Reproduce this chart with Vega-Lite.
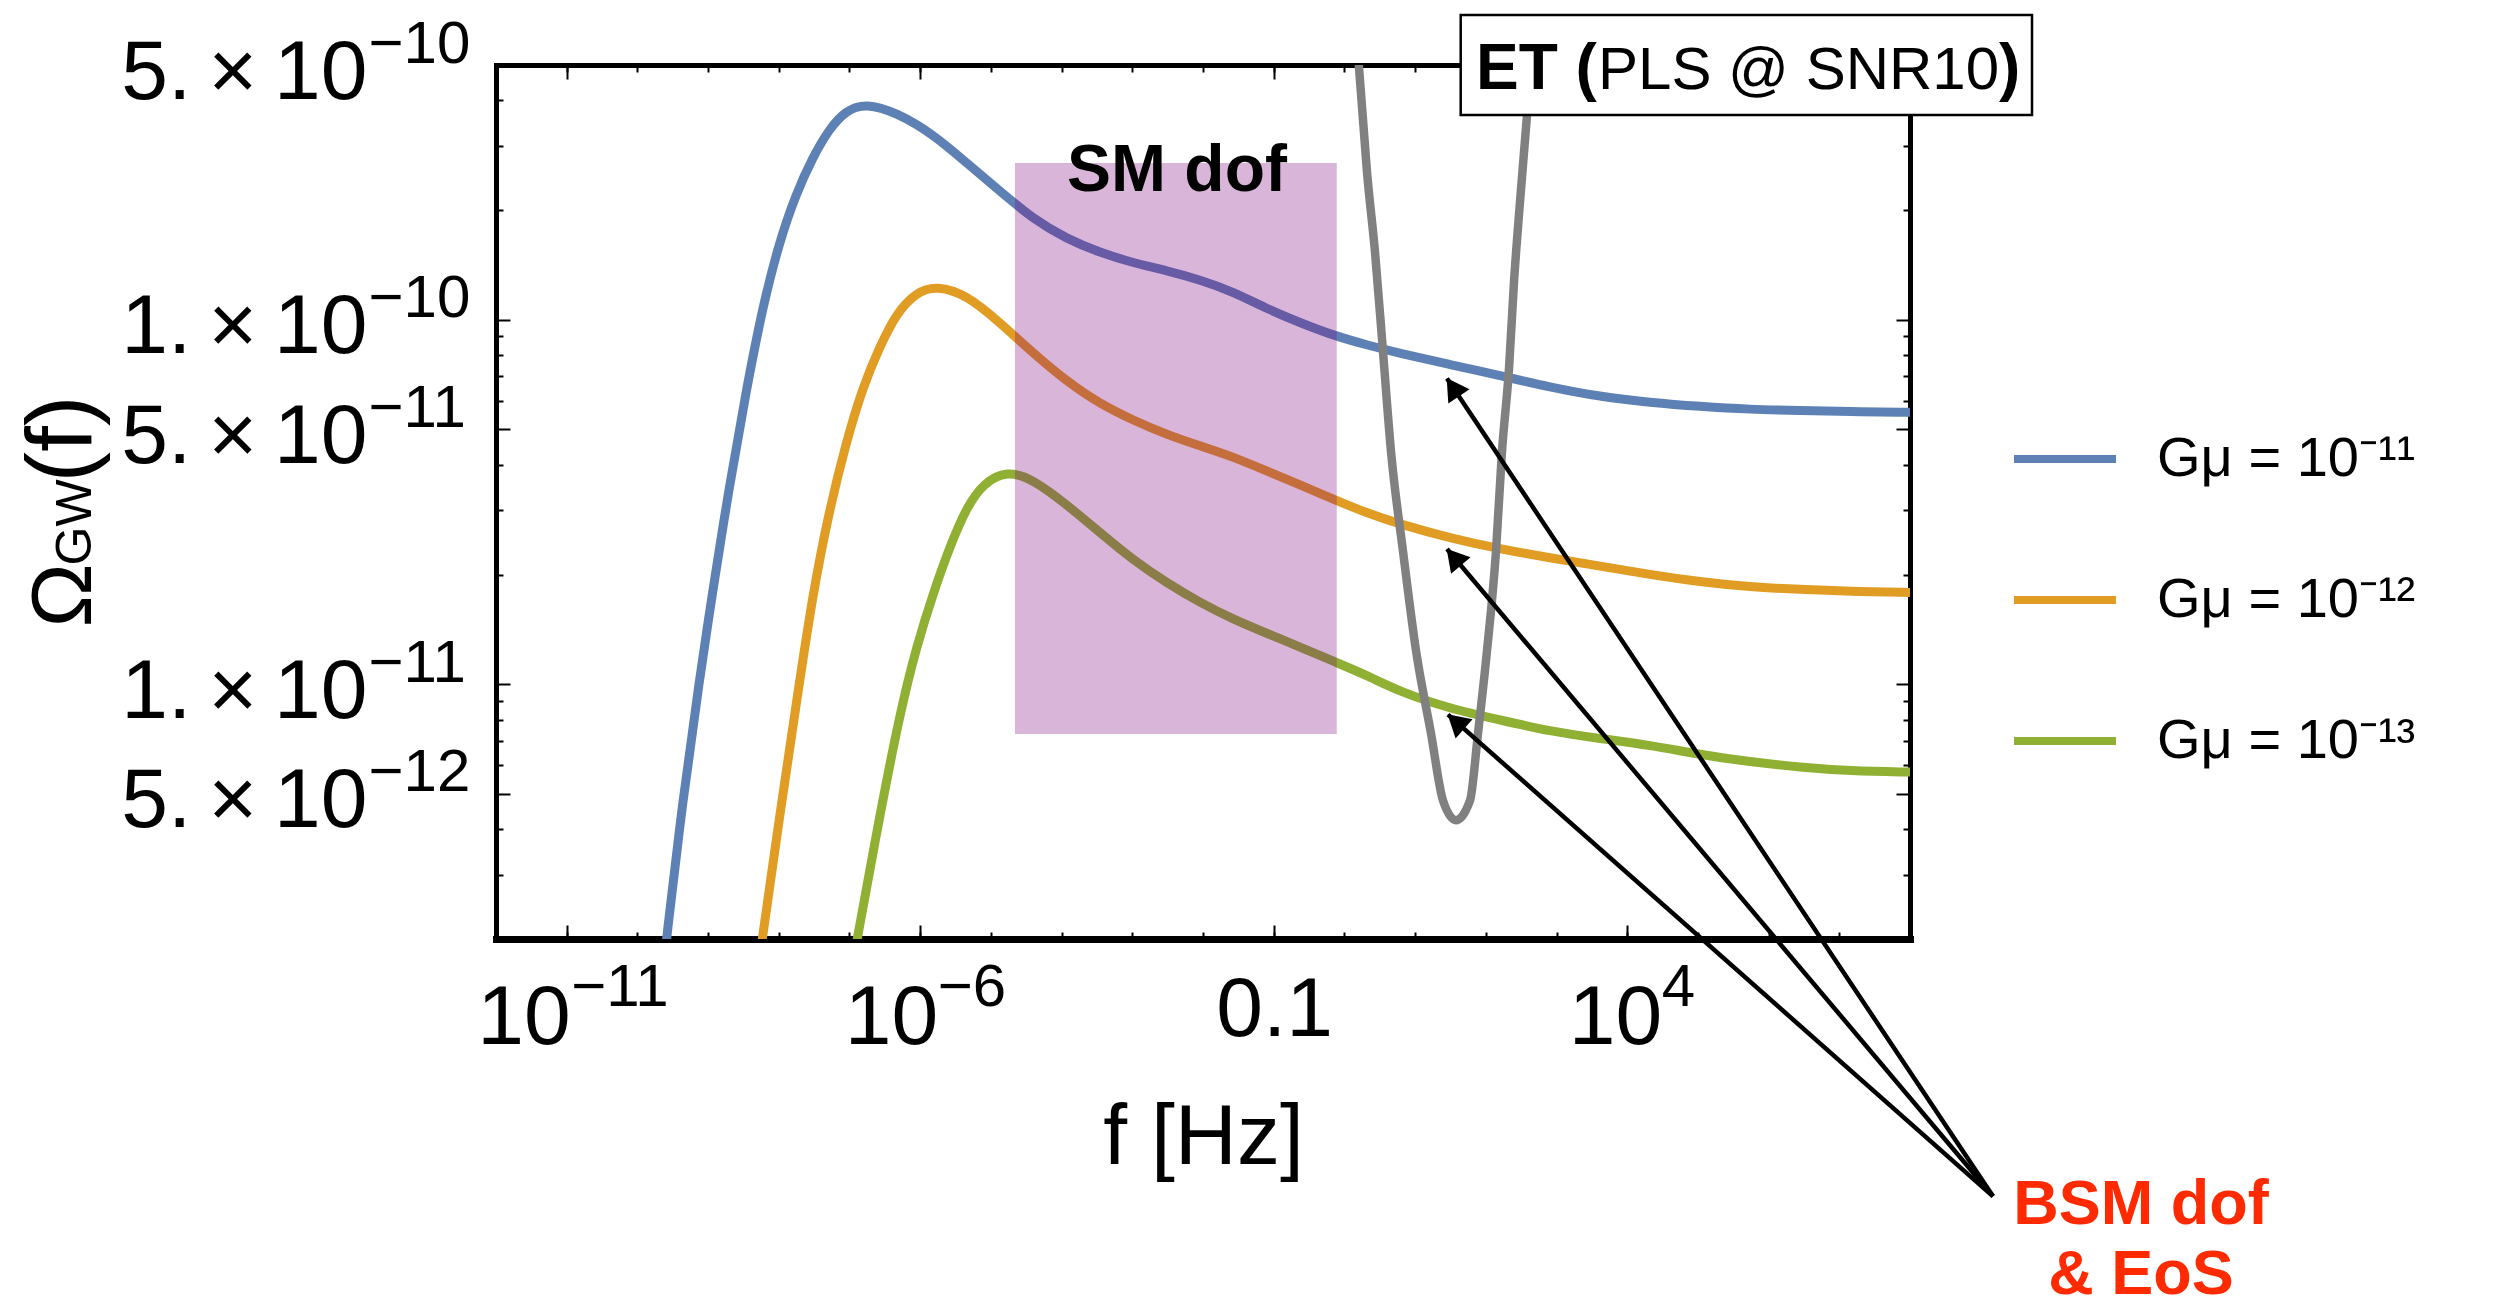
{
  "$schema": "https://vega.github.io/schema/vega-lite/v6.json",
  "width": 1414,
  "height": 874,
  "autosize": {"type": "none"},
  "padding": {"left": 496, "top": 65, "right": 595, "bottom": 371},
  "background": "white",
  "config": {
    "view": {"stroke": null},
    "axis": {"grid": false, "labelFont": "Liberation Sans", "titleFont": "Liberation Sans", "labelColor": "#000", "tickColor": "#000", "domainColor": "#000", "titleColor": "#000", "tickWidth": 2, "labelLimit": 2000, "titleLimit": 3000, "labelFlush": false, "labelOverlap": false, "zindex": 1, "domainCap": "square"},
    "text": {"font": "Liberation Sans"}
  },
  "datasets": {
    "curves": [
      {"series":"Gμ = 10⁻¹¹","f":2.089e-10,"omega":1.361e-12},
      {"series":"Gμ = 10⁻¹¹","f":2.594e-10,"omega":2.032e-12},
      {"series":"Gμ = 10⁻¹¹","f":4.375e-10,"omega":4.797e-12},
      {"series":"Gμ = 10⁻¹¹","f":7.516e-10,"omega":1.023e-11},
      {"series":"Gμ = 10⁻¹¹","f":1.161e-9,"omega":1.803e-11},
      {"series":"Gμ = 10⁻¹¹","f":1.995e-9,"omega":3.491e-11},
      {"series":"Gμ = 10⁻¹¹","f":3.436e-9,"omega":6.353e-11},
      {"series":"Gμ = 10⁻¹¹","f":5.916e-9,"omega":1.086e-10},
      {"series":"Gμ = 10⁻¹¹","f":1.016e-8,"omega":1.633e-10},
      {"series":"Gμ = 10⁻¹¹","f":1.750e-8,"omega":2.213e-10},
      {"series":"Gμ = 10⁻¹¹","f":3.020e-8,"omega":2.793e-10},
      {"series":"Gμ = 10⁻¹¹","f":5.176e-8,"omega":3.340e-10},
      {"series":"Gμ = 10⁻¹¹","f":8.913e-8,"omega":3.755e-10},
      {"series":"Gμ = 10⁻¹¹","f":1.710e-7,"omega":3.925e-10},
      {"series":"Gμ = 10⁻¹¹","f":4.550e-7,"omega":3.708e-10},
      {"series":"Gμ = 10⁻¹¹","f":1.531e-6,"omega":3.230e-10},
      {"series":"Gμ = 10⁻¹¹","f":4.550e-6,"omega":2.692e-10},
      {"series":"Gμ = 10⁻¹¹","f":1.346e-5,"omega":2.254e-10},
      {"series":"Gμ = 10⁻¹¹","f":3.981e-5,"omega":1.888e-10},
      {"series":"Gμ = 10⁻¹¹","f":1.180e-4,"omega":1.667e-10},
      {"series":"Gμ = 10⁻¹¹","f":3.491e-4,"omega":1.528e-10},
      {"series":"Gμ = 10⁻¹¹","f":1.033e-3,"omega":1.432e-10},
      {"series":"Gμ = 10⁻¹¹","f":3.069e-3,"omega":1.365e-10},
      {"series":"Gμ = 10⁻¹¹","f":9.078e-3,"omega":1.288e-10},
      {"series":"Gμ = 10⁻¹¹","f":2.685e-2,"omega":1.194e-10},
      {"series":"Gμ = 10⁻¹¹","f":7.962e-2,"omega":1.072e-10},
      {"series":"Gμ = 10⁻¹¹","f":0.2355,"omega":9.817e-11},
      {"series":"Gμ = 10⁻¹¹","f":0.6966,"omega":9.057e-11},
      {"series":"Gμ = 10⁻¹¹","f":2.065,"omega":8.531e-11},
      {"series":"Gμ = 10⁻¹¹","f":6.109,"omega":8.091e-11},
      {"series":"Gμ = 10⁻¹¹","f":31.19,"omega":7.534e-11},
      {"series":"Gμ = 10⁻¹¹","f":158.9,"omega":7.031e-11},
      {"series":"Gμ = 10⁻¹¹","f":809.1,"omega":6.531e-11},
      {"series":"Gμ = 10⁻¹¹","f":4121,"omega":6.152e-11},
      {"series":"Gμ = 10⁻¹¹","f":20990,"omega":5.929e-11},
      {"series":"Gμ = 10⁻¹¹","f":1.072e5,"omega":5.781e-11},
      {"series":"Gμ = 10⁻¹¹","f":5.458e5,"omega":5.675e-11},
      {"series":"Gμ = 10⁻¹¹","f":2.780e6,"omega":5.636e-11},
      {"series":"Gμ = 10⁻¹¹","f":1.416e7,"omega":5.598e-11},
      {"series":"Gμ = 10⁻¹¹","f":1e8,"omega":5.572e-11},
      {"series":"Gμ = 10⁻¹²","f":4.426e-9,"omega":1.361e-12},
      {"series":"Gμ = 10⁻¹²","f":5.916e-9,"omega":2.032e-12},
      {"series":"Gμ = 10⁻¹²","f":1.016e-8,"omega":4.295e-12},
      {"series":"Gμ = 10⁻¹²","f":1.750e-8,"omega":8.730e-12},
      {"series":"Gμ = 10⁻¹²","f":3.020e-8,"omega":1.770e-11},
      {"series":"Gμ = 10⁻¹²","f":5.176e-8,"omega":2.999e-11},
      {"series":"Gμ = 10⁻¹²","f":8.913e-8,"omega":4.592e-11},
      {"series":"Gμ = 10⁻¹²","f":1.538e-7,"omega":6.531e-11},
      {"series":"Gμ = 10⁻¹²","f":2.636e-7,"omega":8.375e-11},
      {"series":"Gμ = 10⁻¹²","f":4.550e-7,"omega":1.040e-10},
      {"series":"Gμ = 10⁻¹²","f":8.913e-7,"omega":1.193e-10},
      {"series":"Gμ = 10⁻¹²","f":1.710e-6,"omega":1.239e-10},
      {"series":"Gμ = 10⁻¹²","f":4.550e-6,"omega":1.171e-10},
      {"series":"Gμ = 10⁻¹²","f":1.346e-5,"omega":9.817e-11},
      {"series":"Gμ = 10⁻¹²","f":3.981e-5,"omega":8.091e-11},
      {"series":"Gμ = 10⁻¹²","f":1.180e-4,"omega":6.776e-11},
      {"series":"Gμ = 10⁻¹²","f":3.491e-4,"omega":5.875e-11},
      {"series":"Gμ = 10⁻¹²","f":1.033e-3,"omega":5.297e-11},
      {"series":"Gμ = 10⁻¹²","f":3.069e-3,"omega":4.842e-11},
      {"series":"Gμ = 10⁻¹²","f":9.078e-3,"omega":4.508e-11},
      {"series":"Gμ = 10⁻¹²","f":2.685e-2,"omega":4.207e-11},
      {"series":"Gμ = 10⁻¹²","f":7.962e-2,"omega":3.846e-11},
      {"series":"Gμ = 10⁻¹²","f":0.2355,"omega":3.524e-11},
      {"series":"Gμ = 10⁻¹²","f":0.6966,"omega":3.221e-11},
      {"series":"Gμ = 10⁻¹²","f":2.065,"omega":2.951e-11},
      {"series":"Gμ = 10⁻¹²","f":6.109,"omega":2.748e-11},
      {"series":"Gμ = 10⁻¹²","f":31.19,"omega":2.518e-11},
      {"series":"Gμ = 10⁻¹²","f":158.9,"omega":2.350e-11},
      {"series":"Gμ = 10⁻¹²","f":809.1,"omega":2.223e-11},
      {"series":"Gμ = 10⁻¹²","f":4121,"omega":2.109e-11},
      {"series":"Gμ = 10⁻¹²","f":20990,"omega":2.000e-11},
      {"series":"Gμ = 10⁻¹²","f":1.072e5,"omega":1.910e-11},
      {"series":"Gμ = 10⁻¹²","f":5.458e5,"omega":1.849e-11},
      {"series":"Gμ = 10⁻¹²","f":2.780e6,"omega":1.820e-11},
      {"series":"Gμ = 10⁻¹²","f":1.416e7,"omega":1.799e-11},
      {"series":"Gμ = 10⁻¹²","f":1e8,"omega":1.786e-11},
      {"series":"Gμ = 10⁻¹³","f":8.974e-8,"omega":1.361e-12},
      {"series":"Gμ = 10⁻¹³","f":1.306e-7,"omega":2.032e-12},
      {"series":"Gμ = 10⁻¹³","f":2.636e-7,"omega":4.295e-12},
      {"series":"Gμ = 10⁻¹³","f":5.179e-7,"omega":8.356e-12},
      {"series":"Gμ = 10⁻¹³","f":8.913e-7,"omega":1.274e-11},
      {"series":"Gμ = 10⁻¹³","f":1.531e-6,"omega":1.778e-11},
      {"series":"Gμ = 10⁻¹³","f":2.636e-6,"omega":2.393e-11},
      {"series":"Gμ = 10⁻¹³","f":4.550e-6,"omega":3.062e-11},
      {"series":"Gμ = 10⁻¹³","f":7.798e-6,"omega":3.556e-11},
      {"series":"Gμ = 10⁻¹³","f":1.671e-5,"omega":3.860e-11},
      {"series":"Gμ = 10⁻¹³","f":3.981e-5,"omega":3.648e-11},
      {"series":"Gμ = 10⁻¹³","f":1.180e-4,"omega":3.112e-11},
      {"series":"Gμ = 10⁻¹³","f":3.491e-4,"omega":2.606e-11},
      {"series":"Gμ = 10⁻¹³","f":1.033e-3,"omega":2.188e-11},
      {"series":"Gμ = 10⁻¹³","f":3.069e-3,"omega":1.897e-11},
      {"series":"Gμ = 10⁻¹³","f":9.078e-3,"omega":1.675e-11},
      {"series":"Gμ = 10⁻¹³","f":2.685e-2,"omega":1.507e-11},
      {"series":"Gμ = 10⁻¹³","f":7.962e-2,"omega":1.380e-11},
      {"series":"Gμ = 10⁻¹³","f":0.2355,"omega":1.265e-11},
      {"series":"Gμ = 10⁻¹³","f":0.6966,"omega":1.156e-11},
      {"series":"Gμ = 10⁻¹³","f":2.065,"omega":1.059e-11},
      {"series":"Gμ = 10⁻¹³","f":6.109,"omega":9.528e-12},
      {"series":"Gμ = 10⁻¹³","f":31.19,"omega":8.570e-12},
      {"series":"Gμ = 10⁻¹³","f":158.9,"omega":7.980e-12},
      {"series":"Gμ = 10⁻¹³","f":809.1,"omega":7.430e-12},
      {"series":"Gμ = 10⁻¹³","f":4121,"omega":7.096e-12},
      {"series":"Gμ = 10⁻¹³","f":20990,"omega":6.808e-12},
      {"series":"Gμ = 10⁻¹³","f":1.072e5,"omega":6.412e-12},
      {"series":"Gμ = 10⁻¹³","f":5.458e5,"omega":6.124e-12},
      {"series":"Gμ = 10⁻¹³","f":2.780e6,"omega":5.916e-12},
      {"series":"Gμ = 10⁻¹³","f":1.416e7,"omega":5.781e-12},
      {"series":"Gμ = 10⁻¹³","f":1e8,"omega":5.741e-12}
    ],
    "et": [
      {"f":1.282,"omega":9.539e-10},{"f":1.609,"omega":4.920e-10},{"f":2.088,"omega":2.541e-10},
      {"f":2.709,"omega":1.535e-10},{"f":3.516,"omega":8.172e-11},{"f":4.561,"omega":4.355e-11},
      {"f":6.744,"omega":2.317e-11},{"f":10.30,"omega":1.236e-11},{"f":16.79,"omega":7.328e-12},
      {"f":24.81,"omega":4.797e-12},{"f":37.88,"omega":4.236e-12},{"f":59.77,"omega":4.797e-12},
      {"f":77.56,"omega":7.328e-12},{"f":104.0,"omega":1.236e-11},{"f":139.4,"omega":2.317e-11},
      {"f":169.5,"omega":4.355e-11},{"f":212.9,"omega":7.345e-11},{"f":250.6,"omega":1.271e-10},
      {"f":304.5,"omega":2.104e-10},{"f":382.4,"omega":3.639e-10},{"f":435.9,"omega":4.920e-10},
      {"f":547.4,"omega":9.539e-10}
    ],
    "smrect": [{"f1": 2.19e-5, "f2": 0.78, "o1": 7.3e-12, "o2": 2.69e-10}],
    "smtext": [{"f": 4.285e-3, "o": 2.254e-10, "label": "SM dof"}],
    "etbox": [{"f1": 44.16, "f2": 5.317e9, "o1": 3.645e-10, "o2": 6.862e-10}],
    "ettext1": [{"f": 72.67, "o": 4.285e-10, "label": "ET ("}],
    "ettext2": [{"f": 3864, "o": 4.285e-10, "label": "PLS @ SNR10"}],
    "ettext3": [{"f": 1.815e9, "o": 4.285e-10, "label": ")"}],
    "arrows": [
      {"f1": 1.493e9, "o1": 3.936e-13, "f2": 28.27, "o2": 6.896e-11},
      {"f1": 1.493e9, "o1": 3.936e-13, "f2": 28.27, "o2": 2.350e-11},
      {"f1": 1.493e9, "o1": 3.936e-13, "f2": 29.20, "o2": 8.253e-12}
    ],
    "head1": [{"f": 34.14, "o": 6.530e-11}],
    "head2": [{"f": 35.16, "o": 2.233e-11}],
    "head3": [{"f": 37.64, "o": 7.901e-12}],
    "bsm": [{"f": 1.849e11, "o": 3.30e-13, "label": "BSM dof\n& EoS"}]
  },
  "resolve": {"axis": {"x": "independent", "y": "independent"}},
  "layer": [
    {
      "data": {"name": "curves"},
      "mark": {"type": "line", "clip": true, "strokeWidth": 9, "interpolate": "basis", "strokeCap": "butt"},
      "encoding": {
        "x": {"field": "f", "type": "quantitative", "scale": {"type": "log", "domain": [1e-12, 1e8], "nice": false},
          "axis": {"orient": "bottom", "values": [1e-11, 1e-6, 0.1, 10000], "labelExpr": "datum.value > 0.01 && datum.value < 1 ? '0.1' : '10'", "tickSize": -14, "labelPadding": {"condition": {"test": "datum.value > 0.01 && datum.value < 1", "value": 110}, "value": 118}, "labelBaseline": "alphabetic", "labelAlign": "left", "labelOffset": {"condition": [{"test": "datum.value < 1e-8", "value": -90}, {"test": "datum.value < 1e-3", "value": -76}, {"test": "datum.value < 1", "value": -58}], "value": -59}, "labelFontSize": 84, "domainWidth": 7, "title": "f [Hz]", "titleFontSize": 86, "titleFontWeight": "normal", "titleX": 707, "titleY": 224, "titleAlign": "center", "titleBaseline": "alphabetic", "titleAngle": 0}},
        "y": {"field": "omega", "type": "quantitative", "scale": {"type": "log", "domain": [2e-12, 5e-10], "nice": false},
          "axis": {"orient": "left", "values": [5e-10, 1e-10, 5e-11, 1e-11, 5e-12], "labelExpr": "(datum.value > 3e-10 || (datum.value > 3e-11 && datum.value < 8e-11) || datum.value < 7e-12) ? '5.\u2009×\u200910' : '1.\u2009×\u200910'", "tickSize": -14, "labelPadding": 143, "labelAlign": "right", "labelBaseline": "alphabetic", "labelOffset": 33, "labelFontSize": 84, "domainWidth": 5, "title": "Ω", "titleFontSize": 86, "titleFontWeight": "normal", "titleAngle": 270, "titleX": -406, "titleY": 562, "titleAlign": "left", "titleBaseline": "alphabetic"}},
        "color": {"field": "series", "type": "nominal",
          "scale": {"domain": ["Gμ = 10⁻¹¹", "Gμ = 10⁻¹²", "Gμ = 10⁻¹³"], "range": ["#5e81b5", "#e19c24", "#8fb032"]},
          "legend": {"orient": "none", "legendX": 1514, "legendY": 339, "title": null, "symbolType": "stroke", "symbolSize": 10404, "symbolStrokeWidth": 8, "labelFontSize": 56, "labelFont": "Liberation Sans", "labelColor": "#000", "labelOffset": 37, "rowPadding": 58, "labelLimit": 2000, "padding": 0}}
      }
    },
    {
      "data": {"name": "smrect"},
      "mark": {"type": "rect", "fill": "#800080", "fillOpacity": 0.29, "stroke": null},
      "encoding": {
        "x": {"field": "f1", "type": "quantitative", "scale": {"type": "log", "domain": [1e-12, 1e8], "nice": false},
          "axis": {"orient": "bottom", "values": [1e-11,1e-10,1e-9,1e-8,1e-7,1e-6,1e-5,1e-4,1e-3,0.01,0.1,1,10,100,1000,10000,1e5,1e6,1e7], "labels": false, "tickSize": -7, "domain": false, "title": null}},
        "x2": {"field": "f2"},
        "y": {"field": "o1", "type": "quantitative", "scale": {"type": "log", "domain": [2e-12, 5e-10], "nice": false},
          "axis": {"orient": "left", "values": [4e-10,3e-10,2e-10,9e-11,8e-11,7e-11,6e-11,4e-11,3e-11,2e-11,9e-12,8e-12,7e-12,6e-12,4e-12,3e-12], "labels": false, "tickSize": -7, "domain": false, "title": "GW", "titleFontSize": 50, "titleFontWeight": "normal", "titleAngle": 270, "titleX": -406, "titleY": 500, "titleAlign": "left", "titleBaseline": "alphabetic"}},
        "y2": {"field": "o2"}
      }
    },
    {
      "data": {"name": "smtext"},
      "mark": {"type": "text", "font": "Liberation Sans", "fontWeight": "bold", "fontSize": 66, "align": "center", "baseline": "alphabetic", "color": "#000"},
      "encoding": {
        "x": {"field": "f", "type": "quantitative", "scale": {"type": "log", "domain": [1e-12, 1e8], "nice": false},
          "axis": {"orient": "top", "values": [1e-11, 1e-6, 0.1, 10000], "labels": false, "tickSize": -14, "domainWidth": 5, "title": null}},
        "y": {"field": "o", "type": "quantitative", "scale": {"type": "log", "domain": [2e-12, 5e-10], "nice": false},
          "axis": {"orient": "right", "values": [5e-10, 1e-10, 5e-11, 1e-11, 5e-12], "labels": false, "tickSize": -14, "domainWidth": 5, "title": null}},
        "text": {"field": "label"}
      }
    },
    {
      "data": {"name": "et"},
      "mark": {"type": "line", "clip": true, "strokeWidth": 8.5, "color": "#808080", "interpolate": "monotone"},
      "encoding": {
        "x": {"field": "f", "type": "quantitative", "scale": {"type": "log", "domain": [1e-12, 1e8], "nice": false},
          "axis": {"orient": "top", "values": [1e-11,1e-10,1e-9,1e-8,1e-7,1e-6,1e-5,1e-4,1e-3,0.01,0.1,1,10,100,1000,10000,1e5,1e6,1e7], "labels": false, "tickSize": -7, "domain": false, "title": null}},
        "y": {"field": "omega", "type": "quantitative", "scale": {"type": "log", "domain": [2e-12, 5e-10], "nice": false},
          "axis": {"orient": "right", "values": [4e-10,3e-10,2e-10,9e-11,8e-11,7e-11,6e-11,4e-11,3e-11,2e-11,9e-12,8e-12,7e-12,6e-12,4e-12,3e-12], "labels": false, "tickSize": -7, "domain": false, "title": null}}
      }
    },
    {
      "data": {"name": "etbox"},
      "mark": {"type": "rect", "fill": "white", "stroke": "#000", "strokeWidth": 2.5},
      "encoding": {
        "x": {"field": "f1", "type": "quantitative", "scale": {"type": "log", "domain": [1e-12, 1e8], "nice": false},
          "axis": {"orient": "bottom", "values": [1e-11, 1e-6, 10000], "labelExpr": "datum.value < 1e-8 ? '−11' : datum.value < 1e-3 ? '−6' : '4'", "ticks": false, "domain": false, "labelAlign": "left", "labelBaseline": "alphabetic", "labelPadding": 66, "labelFontSize": 60, "labelOffset": {"condition": [{"test": "datum.value < 1e-8", "value": 4}, {"test": "datum.value < 1e-3", "value": 17}], "value": 34}, "title": null}},
        "x2": {"field": "f2"},
        "y": {"field": "o1", "type": "quantitative", "scale": {"type": "log", "domain": [2e-12, 5e-10], "nice": false},
          "axis": {"orient": "left", "values": [5e-10, 1e-10, 5e-11, 1e-11, 5e-12], "labelExpr": "datum.value > 8e-11 ? '−10' : datum.value > 8e-12 ? '−11' : '−12'", "ticks": false, "domain": false, "labelAlign": "left", "labelBaseline": "alphabetic", "labelPadding": 128, "labelOffset": -3, "labelFontSize": 60, "title": "(f)", "titleFontSize": 92, "titleFontWeight": "normal", "titleAngle": 270, "titleX": -406, "titleY": 417, "titleAlign": "left", "titleBaseline": "alphabetic"}},
        "y2": {"field": "o2"}
      }
    },
    {
      "data": {"name": "ettext1"},
      "mark": {"type": "text", "font": "Liberation Sans", "fontWeight": "bold", "fontSize": 64, "align": "left", "baseline": "alphabetic", "color": "#000"},
      "encoding": {
        "x": {"field": "f", "type": "quantitative", "scale": {"type": "log", "domain": [1e-12, 1e8], "nice": false}, "axis": null},
        "y": {"field": "o", "type": "quantitative", "scale": {"type": "log", "domain": [2e-12, 5e-10], "nice": false}, "axis": null},
        "text": {"field": "label"}
      }
    },
    {
      "data": {"name": "ettext2"},
      "mark": {"type": "text", "font": "Liberation Sans", "fontWeight": "normal", "fontSize": 60, "align": "left", "baseline": "alphabetic", "color": "#000"},
      "encoding": {
        "x": {"field": "f", "type": "quantitative", "scale": {"type": "log", "domain": [1e-12, 1e8], "nice": false}, "axis": null},
        "y": {"field": "o", "type": "quantitative", "scale": {"type": "log", "domain": [2e-12, 5e-10], "nice": false}, "axis": null},
        "text": {"field": "label"}
      }
    },
    {
      "data": {"name": "ettext3"},
      "mark": {"type": "text", "font": "Liberation Sans", "fontWeight": "bold", "fontSize": 64, "align": "left", "baseline": "alphabetic", "color": "#000"},
      "encoding": {
        "x": {"field": "f", "type": "quantitative", "scale": {"type": "log", "domain": [1e-12, 1e8], "nice": false}, "axis": null},
        "y": {"field": "o", "type": "quantitative", "scale": {"type": "log", "domain": [2e-12, 5e-10], "nice": false}, "axis": null},
        "text": {"field": "label"}
      }
    },
    {
      "data": {"name": "arrows"},
      "mark": {"type": "rule", "color": "#000", "strokeWidth": 4.5},
      "encoding": {
        "x": {"field": "f1", "type": "quantitative", "scale": {"type": "log", "domain": [1e-12, 1e8], "nice": false}, "axis": null},
        "y": {"field": "o1", "type": "quantitative", "scale": {"type": "log", "domain": [2e-12, 5e-10], "nice": false}, "axis": null},
        "x2": {"field": "f2"},
        "y2": {"field": "o2"}
      }
    },
    {
      "data": {"name": "head1"},
      "mark": {"type": "point", "shape": "triangle-up", "filled": true, "color": "#000", "opacity": 1, "size": 650, "angle": 326.3, "strokeWidth": 0},
      "encoding": {
        "x": {"field": "f", "type": "quantitative", "scale": {"type": "log", "domain": [1e-12, 1e8], "nice": false}, "axis": null},
        "y": {"field": "o", "type": "quantitative", "scale": {"type": "log", "domain": [2e-12, 5e-10], "nice": false}, "axis": null}
      }
    },
    {
      "data": {"name": "head2"},
      "mark": {"type": "point", "shape": "triangle-up", "filled": true, "color": "#000", "opacity": 1, "size": 650, "angle": 319.9, "strokeWidth": 0},
      "encoding": {
        "x": {"field": "f", "type": "quantitative", "scale": {"type": "log", "domain": [1e-12, 1e8], "nice": false}, "axis": null},
        "y": {"field": "o", "type": "quantitative", "scale": {"type": "log", "domain": [2e-12, 5e-10], "nice": false}, "axis": null}
      }
    },
    {
      "data": {"name": "head3"},
      "mark": {"type": "point", "shape": "triangle-up", "filled": true, "color": "#000", "opacity": 1, "size": 650, "angle": 311.6, "strokeWidth": 0},
      "encoding": {
        "x": {"field": "f", "type": "quantitative", "scale": {"type": "log", "domain": [1e-12, 1e8], "nice": false}, "axis": null},
        "y": {"field": "o", "type": "quantitative", "scale": {"type": "log", "domain": [2e-12, 5e-10], "nice": false}, "axis": null}
      }
    },
    {
      "data": {"name": "bsm"},
      "mark": {"type": "text", "font": "Liberation Sans", "fontWeight": "bold", "fontSize": 63, "align": "center", "baseline": "alphabetic", "color": "#ff2a00", "lineBreak": "\n", "lineHeight": 70},
      "encoding": {
        "x": {"field": "f", "type": "quantitative", "scale": {"type": "log", "domain": [1e-12, 1e8], "nice": false}, "axis": null},
        "y": {"field": "o", "type": "quantitative", "scale": {"type": "log", "domain": [2e-12, 5e-10], "nice": false}, "axis": null},
        "text": {"field": "label"}
      }
    }
  ]
}
